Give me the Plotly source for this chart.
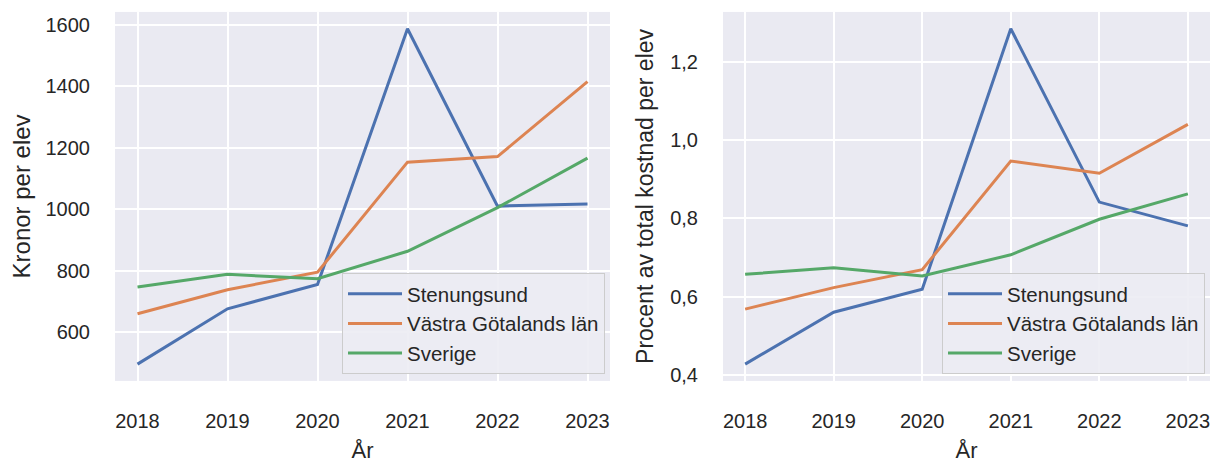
import plotly.graph_objects as go

years = [2018, 2019, 2020, 2021, 2022, 2023]
series_names = ["Stenungsund", "Västra Götalands län", "Sverige"]

# Left: Kronor per elev
kr_stenungsund = [496, 676, 755, 1587, 1010, 1017]
kr_vgl = [660, 738, 795, 1153, 1171, 1415]
kr_sverige = [747, 788, 774, 863, 1005, 1166]

# Right: Procent av total kostnad per elev
pct_stenungsund = [0.427, 0.560, 0.619, 1.286, 0.842, 0.781]
pct_vgl = [0.568, 0.623, 0.669, 0.947, 0.916, 1.041]
pct_sverige = [0.657, 0.674, 0.653, 0.707, 0.798, 0.863]

left_tickvals = [600, 800, 1000, 1200, 1400, 1600]
left_ticktext = ["600", "800", "1000", "1200", "1400", "1600"]
right_tickvals = [0.4, 0.6, 0.8, 1.0, 1.2]
right_ticktext = ["0,4", "0,6", "0,8", "1,0", "1,2"]
x_ticktext = ["2018", "2019", "2020", "2021", "2022", "2023"]

colors = ["#4C72B0", "#DD8452", "#55A868"]
BG = "#EAEAF2"
FONT = "Liberation Sans, Arial, sans-serif"
TXT = "#262626"

W, H = 1219, 461
OFF = 8  # page body margin compensation


def px(x):
    return (x - OFF) / W


def py(y):
    return (H - (y - OFF)) / H


def pad_range(*arrs):
    vals = [v for a in arrs for v in a]
    lo, hi = min(vals), max(vals)
    m = (hi - lo) * 0.05
    return [lo - m, hi + m]


fig = go.Figure()

left_data = [kr_stenungsund, kr_vgl, kr_sverige]
right_data = [pct_stenungsund, pct_vgl, pct_sverige]

for name, vals, c in zip(series_names, left_data, colors):
    fig.add_trace(go.Scatter(x=years, y=vals, mode="lines", name=name,
                             line=dict(color=c, width=3),
                             xaxis="x", yaxis="y", legend="legend"))
for name, vals, c in zip(series_names, right_data, colors):
    fig.add_trace(go.Scatter(x=years, y=vals, mode="lines", name=name,
                             line=dict(color=c, width=3),
                             xaxis="x2", yaxis="y2", legend="legend2"))

ydom = [py(385), py(12)]

common_x = dict(range=[2017.75, 2023.25], tickvals=years, ticktext=x_ticktext,
                showgrid=True, gridcolor="white", gridwidth=1.8,
                zeroline=False, showline=False,
                ticks="outside", ticklen=22, tickcolor="rgba(0,0,0,0)",
                tickfont=dict(size=20, color=TXT, family=FONT),
                title=dict(text="År", font=dict(size=22, color=TXT, family=FONT), standoff=11))

common_y = dict(showgrid=True, gridcolor="white", gridwidth=1.8,
                zeroline=False, showline=False,
                ticks="outside", ticklen=20, tickcolor="rgba(0,0,0,0)",
                tickfont=dict(size=20, color=TXT, family=FONT))

legend_common = dict(bgcolor="rgba(236,236,243,0.9)", bordercolor="#CCCCCC", borderwidth=1,
                     font=dict(size=20.5, color=TXT, family=FONT),
                     itemwidth=54, entrywidth=260, entrywidthmode="pixels",
                     xanchor="right", yanchor="bottom")

fig.update_layout(
    width=W, height=H,
    margin=dict(l=0, r=0, t=0, b=0),
    paper_bgcolor="white",
    plot_bgcolor=BG,
    font=dict(family=FONT, color=TXT),
    xaxis=dict(domain=[px(115), px(610)], anchor="y", **common_x),
    yaxis=dict(domain=ydom, anchor="x", range=pad_range(*left_data),
               tickvals=left_tickvals, ticktext=left_ticktext,
               title=dict(text="Kronor per elev", font=dict(size=24, color=TXT, family=FONT), standoff=10),
               **common_y),
    xaxis2=dict(domain=[px(723), px(1210)], anchor="y2", **common_x),
    yaxis2=dict(domain=ydom, anchor="x2", range=pad_range(*right_data),
                tickvals=right_tickvals, ticktext=right_ticktext,
                title=dict(text="Procent av total kostnad per elev", font=dict(size=23, color=TXT, family=FONT), standoff=10),
                **common_y),
    legend=dict(x=px(605), y=py(378), **legend_common),
    legend2=dict(x=px(1205), y=py(378), **legend_common),
    showlegend=True,
)

fig.write_html("out.html")
